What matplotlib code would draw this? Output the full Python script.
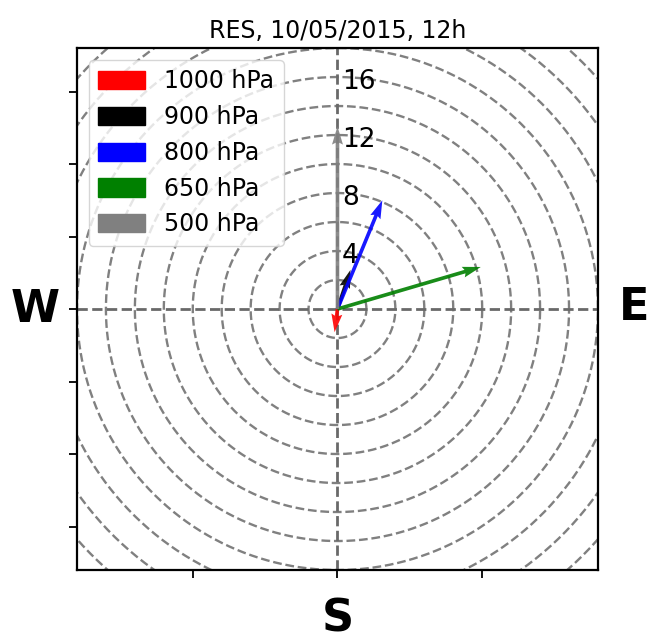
import numpy as np
import matplotlib.pyplot as plt
import matplotlib.patches as mpatches

# wind components (m/s) per level
levels = ['1000 hPa', '900 hPa', '800 hPa', '650 hPa', '500 hPa']
colors = ['red', 'black', 'blue', 'green', 'gray']
u = [-0.2, 0.9, 3.1, 9.9, 0.0]
v = [-1.6, 2.7, 7.5, 2.9, 12.6]

rings = np.arange(2, 27, 2)
ring_labels = [4, 8, 12, 16]
lim = 18

fig = plt.figure(figsize=(6.49, 6.42), dpi=100)
ax = fig.add_axes([0.1186, 0.1121, 0.8028, 0.8131])

# concentric speed rings
theta = np.linspace(0, 2 * np.pi, 400)
for r in rings:
    ax.plot(r * np.cos(theta), r * np.sin(theta), color='gray', ls='--',
            lw=1.7, zorder=1)

ax.axhline(0, color='dimgray', ls='--', lw=2, zorder=1)
ax.axvline(0, color='dimgray', ls='--', lw=2, zorder=1)

for r in ring_labels:
    ax.text(0.3, r - 0.35, str(r), fontsize=19, ha='left', va='center', zorder=4)

ax.quiver([0] * len(u), [0] * len(v), u, v, color=colors, angles='xy',
          scale_units='xy', scale=1, width=0.007, zorder=3, alpha=0.9)

ax.set_xlim(-lim, lim)
ax.set_ylim(-lim, lim)
ax.set_xticks([-10, 0, 10])
ax.set_yticks(np.arange(-15, 16, 5))
ax.set_xticklabels([])
ax.set_yticklabels([])
ax.tick_params(length=6, width=1.3)
for s in ax.spines.values():
    s.set_linewidth(1.6)

ax.set_title('RES, 10/05/2015, 12h', fontsize=17, pad=7)

handles = [mpatches.Patch(color=c, label=l) for c, l in zip(colors, levels)]
ax.legend(handles=handles, loc='upper left', fontsize=17, handleheight=0.8)

ax.text(-20.9, 0, 'W', fontsize=32, fontweight='bold', ha='center', va='center', clip_on=False)
ax.text(20.5, 0.1, 'E', fontsize=32, fontweight='bold', ha='center', va='center', clip_on=False)
ax.text(0, -21.4, 'S', fontsize=32, fontweight='bold', ha='center', va='center', clip_on=False)

fig.savefig('out.png', dpi=100)
